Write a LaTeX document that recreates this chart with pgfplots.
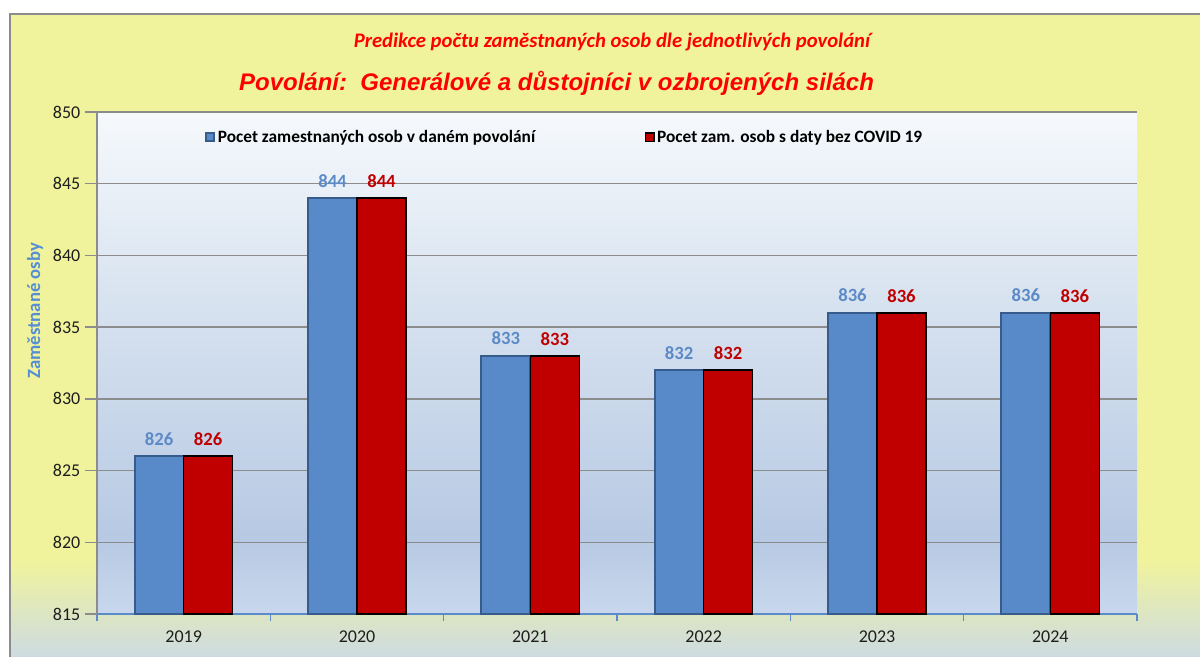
\documentclass[border=0pt]{standalone}
\usepackage{fontspec}
\setmainfont{Carlito}
\newfontfamily\arialfont{Liberation Sans}
\usepackage{pgfplots}
\pgfplotsset{compat=1.18}
\definecolor{bgyellow}{RGB}{240,243,156}
\definecolor{bgbottom}{RGB}{205,219,226}
\definecolor{framegray}{RGB}{140,140,140}
\definecolor{gridgray}{RGB}{140,140,140}
\definecolor{axisblue}{RGB}{91,139,200}
\definecolor{titlered}{RGB}{255,0,0}
\definecolor{ylblue}{RGB}{85,142,213}
\definecolor{lblblue}{RGB}{91,138,198}
\definecolor{lblred}{RGB}{192,0,0}
\definecolor{barblue}{RGB}{88,137,200}
\definecolor{baredge}{RGB}{55,92,140}
\definecolor{barred}{RGB}{192,0,0}
\definecolor{ticktext}{RGB}{30,30,30}
\definecolor{pb0}{RGB}{200,215,236}
\definecolor{pb1}{RGB}{183,201,227}
\definecolor{pb2}{RGB}{216,227,240}
\definecolor{pb3}{RGB}{246,249,252}

\pgfdeclareverticalshading{outerbg}{100bp}{color(0bp)=(bgbottom); color(25bp)=(bgbottom); color(32.5bp)=(bgyellow); color(100bp)=(bgyellow)}
\pgfdeclareverticalshading{plotbg}{100bp}{color(0bp)=(pb0); color(25bp)=(pb0); color(32.5bp)=(pb1); color(56.5bp)=(pb2); color(75bp)=(pb3); color(100bp)=(pb3)}

\begin{document}
\begin{tikzpicture}
\useasboundingbox (0,0) rectangle (900pt,492.75pt);
\fill[white] (0,0) rectangle (900pt,492.75pt);
% chart area
\shade[shading=outerbg] (7.5pt,0) rectangle (900pt,482.25pt);
\draw[framegray, line width=1.2pt] (7.5pt,0) -- (7.5pt,482.25pt) -- (900pt,482.25pt);

\node[font=\bfseries\itshape\fontsize{15.5}{17}\selectfont, text=titlered] at (459pt,461.25pt)
  {Predikce počtu zaměstnaných osob dle jednotlivých povolání};
\node[font=\arialfont\bfseries\itshape\fontsize{18}{20}\selectfont, text=titlered] at (417.4pt,430.5pt)
  {Povolání:\ \ Generálové a důstojníci v ozbrojených silách};

\begin{axis}[
    at={(72.75pt,32.25pt)}, anchor=south west,
    scale only axis, width=780pt, height=376.5pt,
    xmin=-0.5, xmax=5.5, ymin=815, ymax=850,
    ybar=0pt, bar width=36.75pt,
    xtick={0,...,5},
    xticklabels={2019,2020,2021,2022,2023,2024},
    minor xtick={-0.5,0.5,...,5.5},
    ytick={815,820,...,850},
    axis x line*=bottom, axis y line*=left,
    x axis line style={color=axisblue, line width=1pt},
    y axis line style={color=gridgray, line width=1pt},
    tick align=outside,
    major x tick style={draw=none},
    minor x tick style={color=axisblue, line width=1pt},
    minor tick length=5pt,
    major tick length=9pt,
    ytick style={color=gridgray, line width=1pt},
    ymajorgrids,
    y grid style={color=gridgray, line width=1.1pt},
    /pgf/number format/assume math mode=true,
    /pgf/number format/1000 sep={},
    tick label style={font=\fontsize{13.5}{14}\selectfont, color=ticktext},
    axis background/.style={shading=plotbg},
    ylabel={Zaměstnané osby},
    ylabel style={at={(axis description cs:-0.0595,0.604)}, anchor=center,
        font=\bfseries\fontsize{14}{15}\selectfont, color=ylblue},
    legend style={at={(0.0995,0.95)}, anchor=west, draw=none, fill=none,
        font=\bfseries\fontsize{13}{15}\selectfont,
        /tikz/every even column/.append style={column sep=80pt}},
    legend columns=2,
    legend image code/.code={\draw[#1] (0pt,-3.2pt) rectangle (6.4pt,3.2pt);},
]
\addplot[fill=barblue, draw=baredge, line width=1.5pt,
    nodes near coords,
    every node near coord/.append style={color=lblblue, font=\bfseries\fontsize{14}{14}\selectfont, yshift=4pt}]
  coordinates {(0,826) (1,844) (2,833) (3,832) (4,836) (5,836)};
\addlegendentry{Pocet zamestnaných osob v daném povolání}
\addplot[fill=barred, draw=black, line width=1.1pt,
    nodes near coords,
    every node near coord/.append style={color=lblred, font=\bfseries\fontsize{14}{14}\selectfont, yshift=4pt}]
  coordinates {(0,826) (1,844) (2,833) (3,832) (4,836) (5,836)};
\addlegendentry{Pocet zam. osob s daty bez COVID 19}
\end{axis}
\end{tikzpicture}
\end{document}
